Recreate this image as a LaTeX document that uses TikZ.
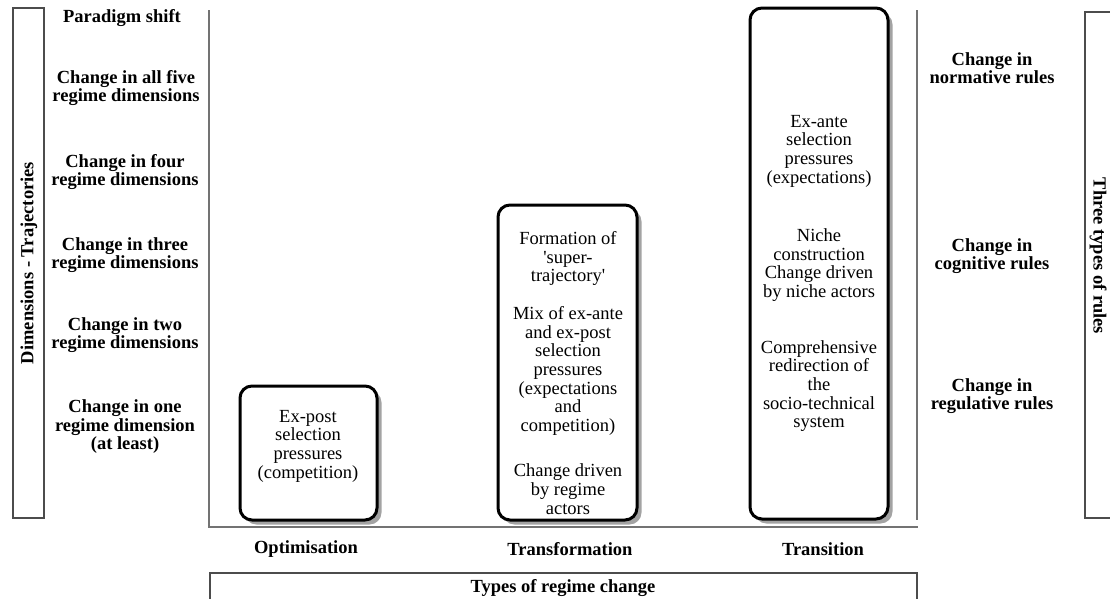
\documentclass[tikz,border=0pt]{standalone}
\usepackage{fontspec}
\setmainfont{Liberation Serif}
\newfontfamily\rawserif{Liberation Serif}
\usetikzlibrary{shadows}
\begin{document}
\begin{tikzpicture}[x=1pt,y=-1pt,
  stagebox/.style={draw=black, line width=3pt, rounded corners=12pt, fill=white, inner sep=0pt,
    drop shadow={shadow xshift=4.5pt, shadow yshift=-4.5pt, fill=black!45, opacity=0.8}},
  lbl/.style={font=\bfseries\fontsize{18.5}{18.5}\selectfont, align=center, inner sep=0pt},
  txt/.style={font=\fontsize{18.5}{18.7}\selectfont, align=center, inner sep=0pt},
  framebox/.style={draw=black!70, line width=1.3pt, inner sep=0pt},
  axisline/.style={draw=black!55, line width=2pt}]
\useasboundingbox (0,0) rectangle (1110,598);

% frames
\node[framebox, minimum width=31pt, minimum height=510pt] (lframe) at (28.5,263) {};
\node[lbl, rotate=90] (ltitle) at (29,263) {Dimensions - Trajectories};
\node[framebox, minimum width=50pt, minimum height=506pt] (rframe) at (1110,265) {};
\node[lbl, rotate=-90] (rtitle) at (1098,256) {Three types of rules};
\node[framebox, minimum width=707pt, minimum height=50pt] (bframe) at (563.5,598) {};
\node[lbl] (btitle) at (563,588) {Types of regime change};

% axes
\coordinate (axtop) at (209,10);
\coordinate (axorig) at (209,527);
\coordinate (axend) at (918,527);
\coordinate (rtop) at (917,10);
\coordinate (rbot) at (917,520);
\draw[axisline] (axtop) -- (axorig) -- (axend);
\draw[axisline] (rtop) -- (rbot);

% left labels
\node[lbl] (l6) at (122,18) {Paradigm shift};
\node[lbl] (l5) at (126,88) {Change in all five\\regime dimensions};
\node[lbl] (l4) at (125,172) {Change in four\\regime dimensions};
\node[lbl] (l3) at (125,255) {Change in three\\regime dimensions};
\node[lbl] (l2) at (125,335) {Change in two\\regime dimensions};
\node[lbl] (l1) at (125,427) {Change in one\\regime dimension\\(at least)};

% right labels
\node[lbl] (r3) at (992,68) {Change in\\normative rules};
\node[lbl] (r2) at (992,256) {Change in\\cognitive rules};
\node[lbl] (r1) at (992,396) {Change in\\regulative rules};

% stage boxes
\node[stagebox, minimum width=137pt, minimum height=134pt] (opt) at (308.5,453) {};
\node[stagebox, minimum width=139pt, minimum height=315pt] (trf) at (567.5,362.5) {};
\node[stagebox, minimum width=138pt, minimum height=511pt] (trn) at (819,263.5) {};

\node[txt] (optT) at (308,446) {Ex-post\\selection\\pressures\\(competition)};

\node[txt] (trfA) at (568,258.5) {Formation of\\{\rawserif 'super-}\\{\rawserif trajectory'}};
\node[txt] (trfB) at (568,371) {Mix of ex-ante\\and ex-post\\selection\\pressures\\(expectations\\and\\competition)};
\node[txt] (trfC) at (568,489) {Change driven\\by regime\\actors};

\node[txt] (trnA) at (819,151) {Ex-ante\\selection\\pressures\\(expectations)};
\node[txt] (trnB) at (819,265) {Niche\\construction\\Change driven\\by niche actors};
\node[txt] (trnC) at (819,386) {Comprehensive\\redirection of\\the\\socio-technical\\system};

% axis labels
\node[lbl] (xopt) at (306,549) {Optimisation};
\node[lbl] (xtrf) at (570,549) {Transformation};
\node[lbl] (xtrn) at (823,549) {Transition};
\end{tikzpicture}
\end{document}
